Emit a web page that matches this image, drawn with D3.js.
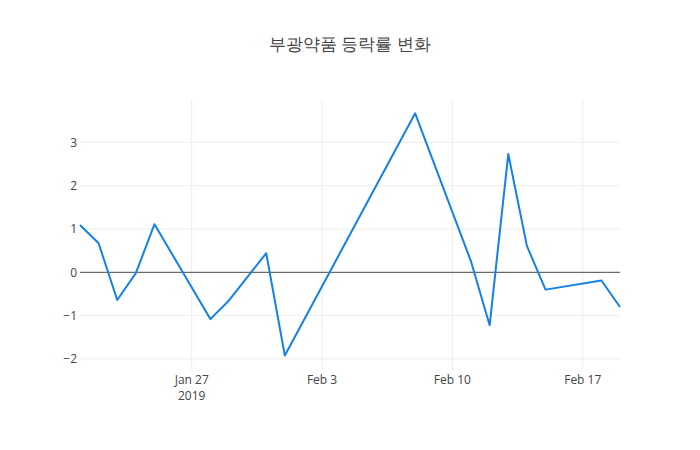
<!DOCTYPE html>
<html><head><meta charset="utf-8">
<script src="https://cdn.jsdelivr.net/npm/d3@7"></script>
<style>body{margin:0;background:#fff}svg{display:block}text{font-family:"Open Sans",sans-serif}</style>
</head><body><div id="chart"></div>
<script>
const dates = ["2019-01-21","2019-01-22","2019-01-23","2019-01-24","2019-01-25","2019-01-28","2019-01-29","2019-01-31","2019-02-01","2019-02-08","2019-02-11","2019-02-12","2019-02-13","2019-02-14","2019-02-15","2019-02-18","2019-02-19"];
const values = [1.09,0.67,-0.64,-0.02,1.11,-1.08,-0.65,0.44,-1.92,3.67,0.25,-1.22,2.73,0.61,-0.40,-0.19,-0.80];
const yTicks = [-2,-1,0,1,2,3];
const xTickDates = ["2019-01-27","2019-02-03","2019-02-10","2019-02-17"];
const xTickLabels = [["Jan 27","2019"],["Feb 3"],["Feb 10"],["Feb 17"]];
const title = "부광약품 등락률 변화";

const W=700,H=450,m={l:80,r:80,t:100,b:80};
const parse=d3.timeParse("%Y-%m-%d");
const data=dates.map((d,i)=>({d:parse(d),v:values[i]}));
const svg=d3.select("#chart").append("svg").attr("width",W).attr("height",H);
const x=d3.scaleTime().domain([parse("2019-01-21"),parse("2019-02-19")]).range([m.l,W-m.r]);
const y=d3.scaleLinear().domain([-2.255,3.977]).range([H-m.b,m.t]);

// grid
svg.append("g").selectAll("line").data(xTickDates).join("line")
  .attr("x1",d=>x(parse(d))).attr("x2",d=>x(parse(d)))
  .attr("y1",m.t).attr("y2",H-m.b).attr("stroke","#eee").attr("stroke-width",1);
svg.append("g").selectAll("line").data(yTicks.filter(t=>t!==0)).join("line")
  .attr("x1",m.l).attr("x2",W-m.r).attr("y1",d=>y(d)).attr("y2",d=>y(d))
  .attr("stroke","#eee").attr("stroke-width",1);
svg.append("line").attr("x1",m.l).attr("x2",W-m.r).attr("y1",y(0)).attr("y2",y(0))
  .attr("stroke","#444").attr("stroke-width",1);

// y labels
svg.append("g").selectAll("text").data(yTicks).join("text")
  .attr("x",m.l-3).attr("y",d=>y(d)).attr("dy","0.35em").attr("text-anchor","end")
  .attr("font-size",12).attr("fill","#444").text(d=>d<0?"\u2212"+Math.abs(d):d);

// x labels
const xl=svg.append("g").selectAll("text").data(xTickDates).join("text")
  .attr("x",d=>x(parse(d))).attr("y",H-m.b+14).attr("text-anchor","middle")
  .attr("font-size",12).attr("fill","#444");
xl.each(function(d,i){
  const t=d3.select(this);
  xTickLabels[i].forEach((s,j)=>t.append("tspan").attr("x",x(parse(d))).attr("dy",j?16:0).text(s));
});

// line
svg.append("path").datum(data).attr("fill","none").attr("stroke","#1580e6").attr("stroke-width",2)
  .attr("stroke-linejoin","round")
  .attr("d",d3.line().x(d=>x(d.d)).y(d=>y(d.v)));

svg.append("text").attr("x",W/2).attr("y",50).attr("text-anchor","middle")
  .attr("font-size",17).attr("fill","#444").text(title);
</script></body></html>
